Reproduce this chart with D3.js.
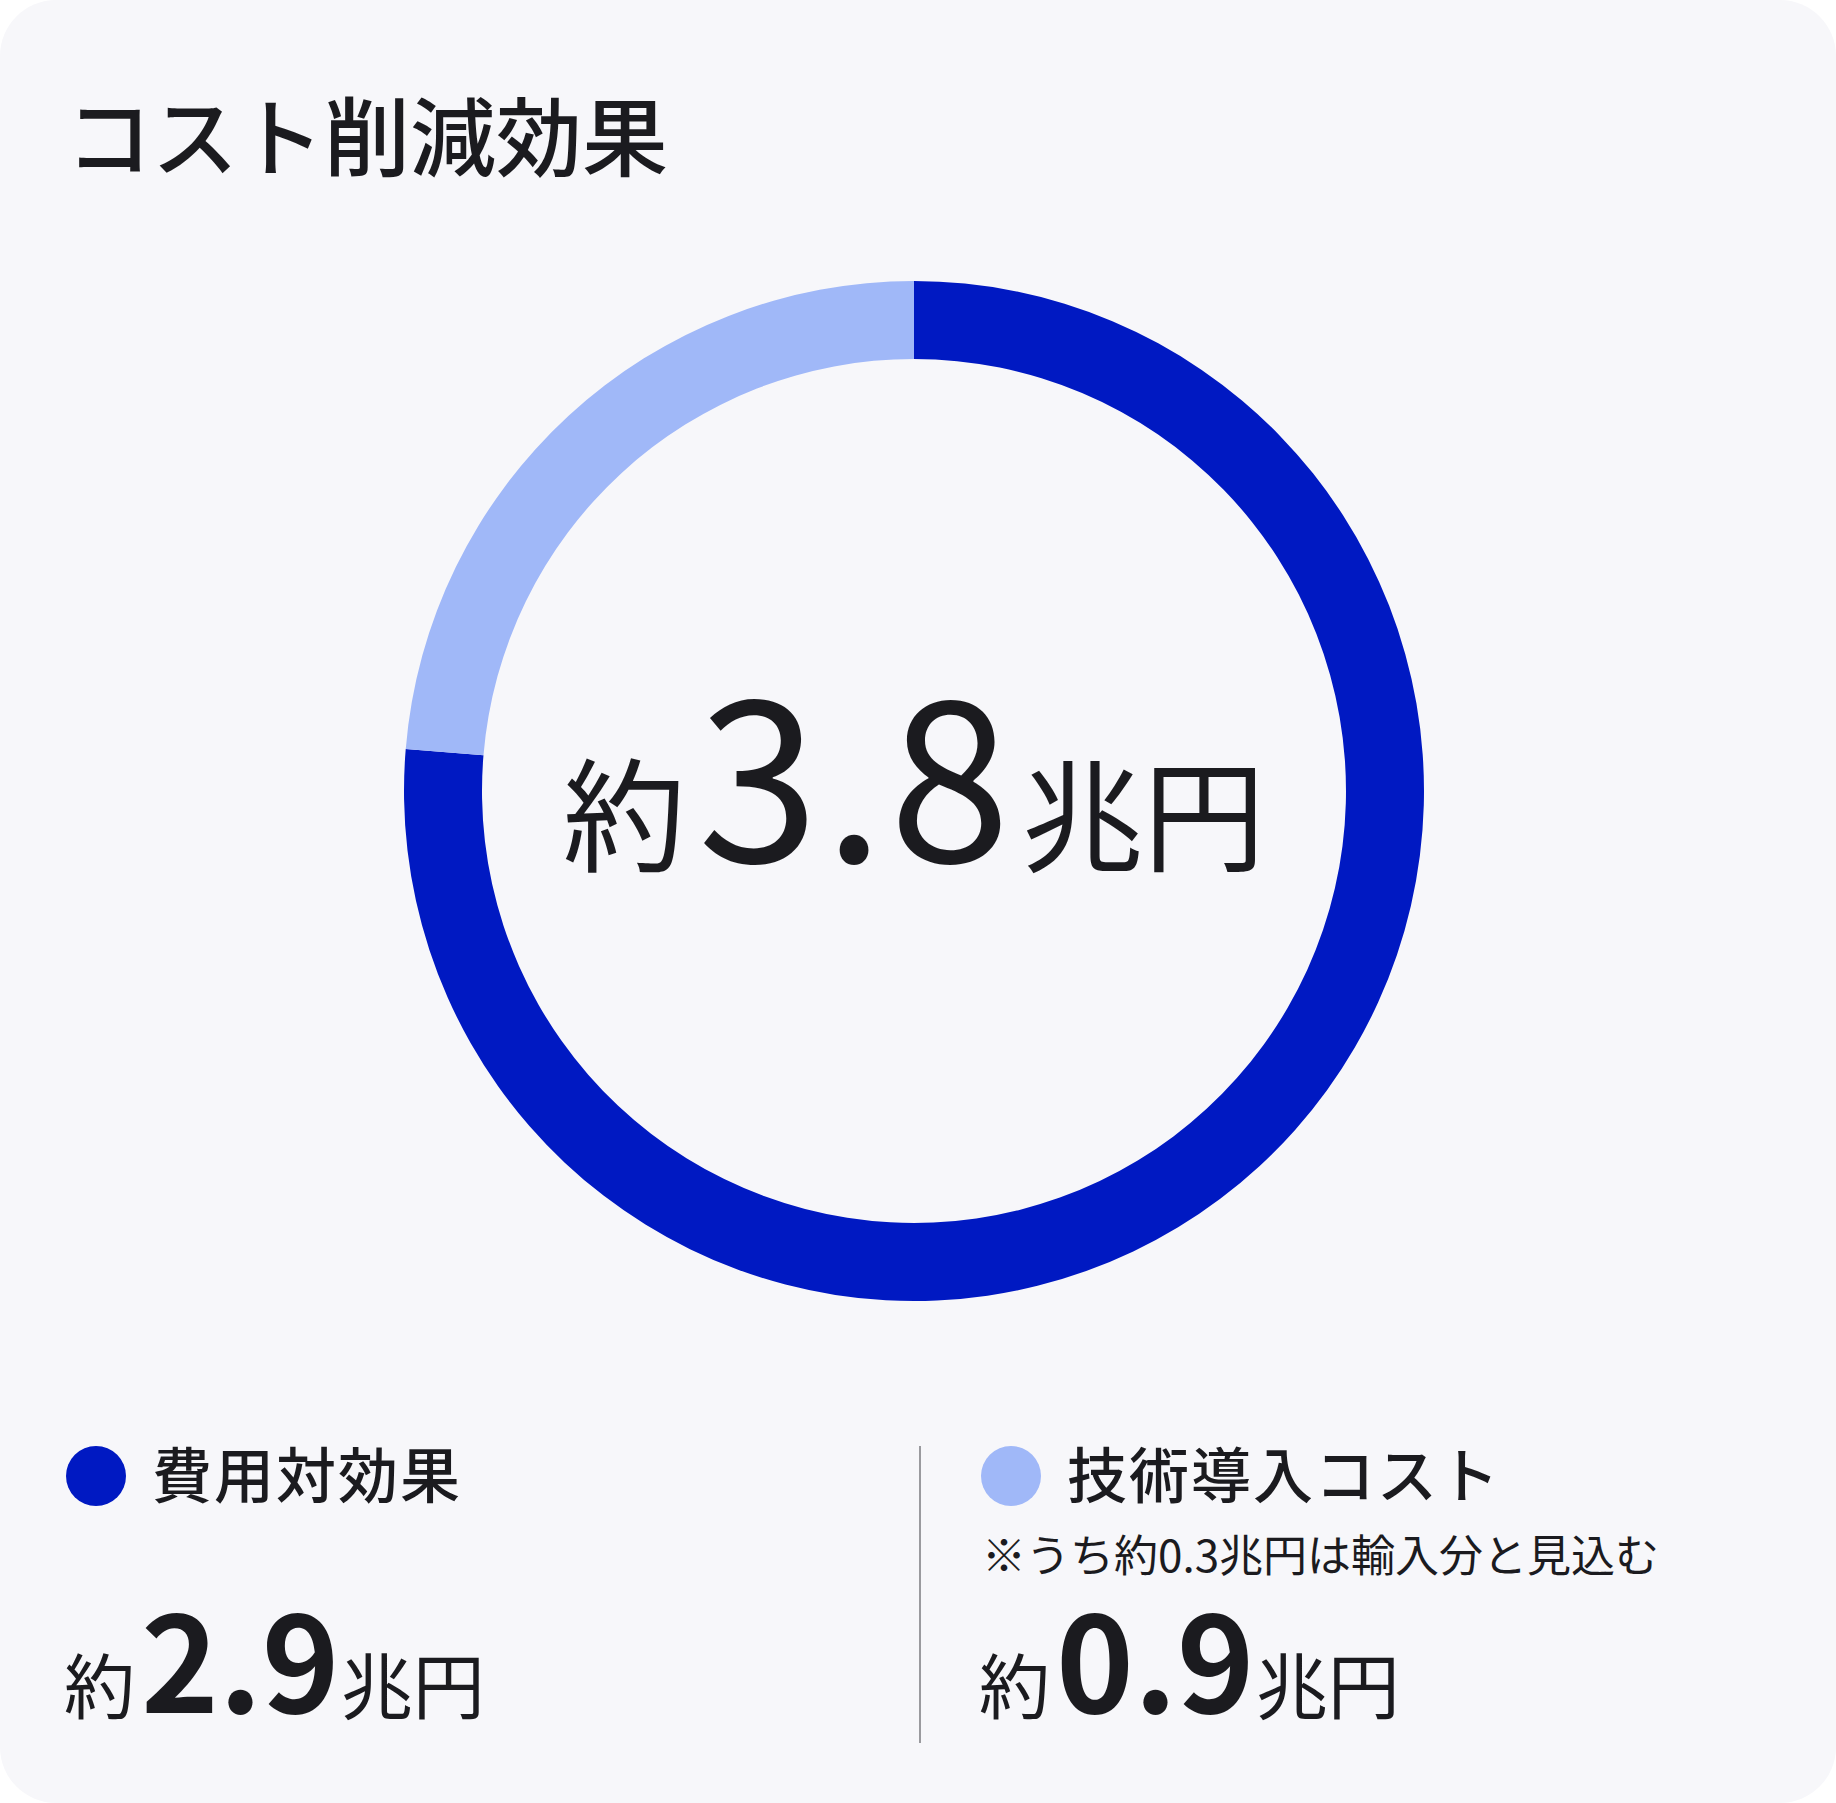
<!DOCTYPE html>
<html lang="ja">
<head>
<meta charset="utf-8">
<script src="https://cdn.jsdelivr.net/npm/d3@7"></script>
<style>
  body { margin: 0; background: #ffffff; }
  svg text { font-family: "Noto Sans CJK JP", "Noto Sans", sans-serif; fill: #1b1b1f; }
</style>
</head>
<body>
<div id="chart"></div>
<script>
const W = 1836;
const H = 1803;

const title = "コスト削減効果";
const categories = ["費用対効果", "技術導入コスト"];
const values = [2.9, 0.9];
const colors = ["#0019c2", "#a0b8f8"];
const notes = ["", "※うち約0.3兆円は輸入分と見込む"];
const prefix = "約";
const unit = "兆円";

const cx = 914, cy = 791;
const outerR = 510, innerR = 432;

const svg = d3.select("#chart")
  .append("svg")
  .attr("width", W)
  .attr("height", H);

// card background
svg.append("rect")
  .attr("width", W)
  .attr("height", H)
  .attr("rx", 56)
  .attr("fill", "#f7f7fa");

svg.append("text")
  .attr("x", 66)
  .attr("y", 170)
  .style("font-size", "86px")
  .style("font-weight", 500)
  .text(title);

// donut
const pie = d3.pie().sort(null).value(d => d)(values);
const arc = d3.arc().innerRadius(innerR).outerRadius(outerR);
const color = d3.scaleOrdinal().domain(categories).range(colors);

svg.append("g")
  .attr("transform", "translate(" + cx + "," + cy + ")")
  .selectAll("path")
  .data(pie)
  .enter()
  .append("path")
  .attr("d", arc)
  .attr("fill", (d, i) => color(categories[i]));

// total in the middle
const fmt = d3.format(".1f");
const total = svg.append("text")
  .attr("x", cx)
  .attr("y", 862)
  .attr("text-anchor", "middle");
total.append("tspan").style("font-size", "123px").text(prefix);
total.append("tspan").attr("dx", 12).style("font-size", "218px")
  .style("letter-spacing", "5px").text(fmt(d3.sum(values)));
total.append("tspan").attr("dx", 6).style("font-size", "122px").text(unit);

// legend
const colX = [66, 981];
const legend = svg.selectAll("g.item")
  .data(categories)
  .enter()
  .append("g")
  .attr("class", "item")
  .attr("transform", (d, i) => "translate(" + colX[i] + ",0)");

legend.append("circle")
  .attr("cx", 30)
  .attr("cy", 1476)
  .attr("r", 30)
  .attr("fill", d => color(d));

legend.append("text")
  .attr("x", 86)
  .attr("y", 1498)
  .style("font-size", "60px")
  .style("font-weight", 500)
  .style("letter-spacing", "2px")
  .text(d => d);

legend.append("text")
  .attr("x", 1)
  .attr("y", 1572)
  .style("font-size", "44px")
  .text((d, i) => notes[i]);

const val = legend.append("text")
  .attr("x", -2)
  .attr("y", 1713);
val.append("tspan").style("font-size", "71px").text(prefix);
val.append("tspan").attr("dx", 6).style("font-size", "132px")
  .style("font-weight", 700)
  .text((d, i) => fmt(values[i]));
val.append("tspan").attr("dx", 1).style("font-size", "72px").text(unit);

// divider
svg.append("line")
  .attr("x1", 920).attr("x2", 920)
  .attr("y1", 1446).attr("y2", 1743)
  .attr("stroke", "#9a9a9e")
  .attr("stroke-width", 2);
</script>
</body>
</html>
